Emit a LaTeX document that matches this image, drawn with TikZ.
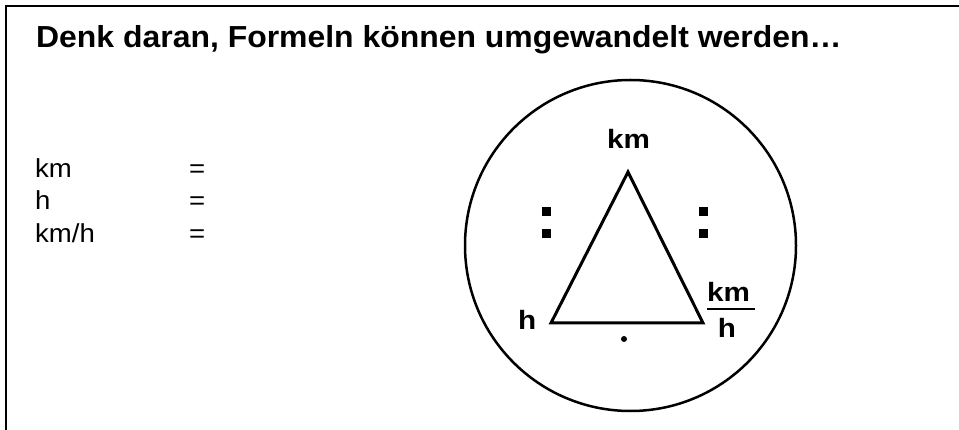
\documentclass[tikz,border=0pt]{standalone}
\usepackage{fontspec}
\setmainfont{Liberation Sans}[FakeStretch=1.06]
\newfontfamily\ttlfont{Liberation Sans}[FakeStretch=1.05]
\newfontfamily\trifont{Liberation Sans}[FakeStretch=1.12]
\begin{document}
\begin{tikzpicture}[x=1pt,y=-1pt,
  lbl/.style={inner sep=0pt, font=\fontsize{26}{26}\selectfont},
  blbl/.style={inner sep=0pt, font=\trifont\fontsize{26.5}{26}\selectfont\bfseries},
  ttl/.style={inner sep=0pt, font=\ttlfont\fontsize{30.4}{30}\selectfont\bfseries},
  thick line/.style={line width=3pt, line join=miter},
  colondot/.style={fill=black, draw=none}]
\useasboundingbox (0,0) rectangle (959,430);
\fill[white] (0,0) rectangle (959,430);
% frame (right and bottom edges outside the page)
\draw[line width=2.2pt] (6,470) -- (6,6) -- (1000,6);
% title
\node[ttl, anchor=base west] (title) at (36,48) {Denk daran, Formeln können umgewandelt werden…};
% left list
\node[lbl, anchor=base west] (l1) at (35,178) {km};
\node[lbl, anchor=base west] (l2) at (35,210) {h};
\node[lbl, anchor=base west] (l3) at (35,243) {km/h};
\node[lbl, anchor=base west] (e1) at (189,178) {=};
\node[lbl, anchor=base west] (e2) at (189,210) {=};
\node[lbl, anchor=base west] (e3) at (189,243) {=};
% circle
\node[draw, circle, line width=2.5pt, minimum size=331pt, inner sep=0pt] (circ) at (630.5,245.5) {};
% triangle
\coordinate (ta) at (628,172);
\coordinate (tl) at (551,323);
\coordinate (tr) at (703,323);
\draw[thick line] (ta) -- (tl) -- (tr) -- cycle;
% labels
\node[blbl, anchor=base] (kmtop) at (628.5,149) {km};
\node[blbl, anchor=base west] (hleft) at (518,330) {h};
\node[blbl, anchor=base west] (fnum) at (707,302) {km};
\node[blbl, anchor=base] (fden) at (727,338) {h};
\coordinate (bar1) at (707,309);
\coordinate (bar2) at (755,309);
\draw[line width=2.5pt] (bar1) -- (bar2);
% colons
\fill[colondot] (541.5,207.5) rectangle (550.5,216.5);
\fill[colondot] (541.5,229.5) rectangle (550.5,238.5);
\fill[colondot] (698.5,207.5) rectangle (707.5,216.5);
\fill[colondot] (698.5,229.5) rectangle (707.5,238.5);
% multiplication dot
\fill (624,339) circle (3pt);
\end{tikzpicture}
\end{document}
